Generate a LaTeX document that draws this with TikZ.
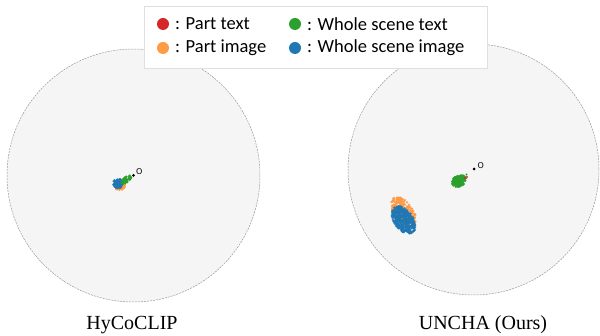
\documentclass[tikz,border=0pt]{standalone}
\usepackage{fontspec}
\setmainfont{Liberation Serif}
\newfontfamily\legfont{Carlito}
\newfontfamily\osans{DejaVu Sans}
\definecolor{cred}{HTML}{D62728}
\definecolor{corange}{HTML}{FF9A45}
\definecolor{cgreen}{HTML}{2CA02C}
\definecolor{cblue}{HTML}{1F77B4}
\definecolor{ballfill}{HTML}{F5F5F5}
\newcommand{\scatterell}[8]{%
  \foreach \k in {1,...,#8}{%
    \pgfmathsetmacro{\ph}{rnd*360}%
    \pgfmathsetmacro{\rr}{sqrt(rnd)}%
    \pgfmathsetmacro{\px}{(#2)+(#6)*\rr*cos(\ph)*(#4)-(#7)*\rr*sin(\ph)*(#5)}%
    \pgfmathsetmacro{\py}{(#3)+(#6)*\rr*cos(\ph)*(#5)+(#7)*\rr*sin(\ph)*(#4)}%
    \fill[#1, fill opacity=0.9] (\px,\py) circle (1.3);
  }}
\tikzset{
  ball/.style={fill=ballfill, draw=gray!80, dash pattern=on 2pt off 1pt, line width=0.5pt},
  legdot/.style={circle, inner sep=0pt, minimum size=12pt},
  legtext/.style={anchor=west, font=\legfont\fontsize{18.5}{18.5}\selectfont, inner sep=0pt},
  caption/.style={font=\fontsize{20}{20}\selectfont, inner sep=0pt},
  olabel/.style={font=\osans\fontsize{8}{8}\selectfont, inner sep=0pt, anchor=south west}
}
\begin{document}
\begin{tikzpicture}[x=1pt,y=-1pt]
\useasboundingbox (0,0) rectangle (600,336);
\pgfmathsetseed{7}
% left ball
\path[ball] (133.5,175.5) circle (126.5);
% right ball
\path[ball] (473.5,169.5) circle (125.5);

% left clusters
\scatterell{corange}{119.5}{185}{1}{0}{5.8}{5.3}{70}
\scatterell{cblue}{118}{183.5}{1}{0}{5}{4.6}{90}
\scatterell{cgreen}{126.5}{179.5}{0.79}{-0.61}{6}{2.8}{55}
\fill[black] (133.5,175.5) circle (1.5);
\coordinate (oL) at (133.5,175.5);
\node[olabel] (OL) at (136,175) {O};

% right clusters
\scatterell{corange}{403.5}{212}{0.57}{0.82}{17}{9.5}{300}
\scatterell{cblue}{403.5}{220}{0.57}{0.82}{15.5}{9.5}{420}
\scatterell{cgreen}{459}{181}{0.9}{-0.43}{7.5}{5.5}{170}
\fill[cred] (465,178) circle (1.1);
\fill[cred] (467,177) circle (1.1);
\fill[cgreen] (466.5,174.5) circle (1.2);
\fill[black] (474,169) circle (1.5);
\coordinate (oR) at (474,169);
\node[olabel] (OR) at (477.5,169) {O};

% legend
\draw[draw=gray!25, fill=white, line width=0.8pt] (144,6) rectangle (487,68);
\node[legdot, fill=cred] (d1) at (163,24) {};
\node[legdot, fill=corange] (d2) at (163,48) {};
\node[legdot, fill=cgreen] (d3) at (295,24) {};
\node[legdot, fill=cblue] (d4) at (295,48) {};
\node[legtext] (t1) at (175,24) {: Part text};
\node[legtext] (t2) at (175,48) {: Part image};
\node[legtext] (t3) at (307,24) {: Whole scene text};
\node[legtext] (t4) at (307,48) {: Whole scene image};

% captions
\node[caption] (c1) at (132,325) {HyCoCLIP};
\node[caption] (c2) at (483,325) {UNCHA (Ours)};
\end{tikzpicture}
\end{document}
